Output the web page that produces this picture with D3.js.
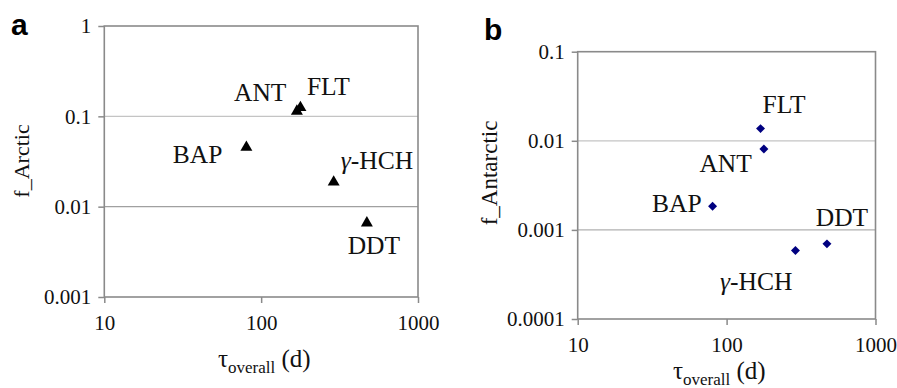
<!DOCTYPE html>
<html><head><meta charset="utf-8">
<script src="https://cdn.jsdelivr.net/npm/d3@7"></script>
<style>
body{margin:0;background:#fff;}
svg{display:block;}
svg text{font-family:"Liberation Serif","Times New Roman",serif;}
svg text.letter{font-family:"Liberation Sans",Arial,sans-serif;}
</style></head>
<body>
<svg id="chart" width="897" height="388"></svg>
<script>
// ---- data ----
const compounds = ["BAP", "ANT", "FLT", "γ-HCH", "DDT"];
const tauOverall = [80.5, 178, 169, 290, 472];          // days
const fArctic    = [0.0454, 0.125, 0.114, 0.0187, 0.0066];
const fAntarctic = [0.00184, 0.0081, 0.0137, 0.000586, 0.000697];
const xTicks = [10, 100, 1000];
const yTicksA = [0.001, 0.01, 0.1, 1];
const yTicksB = [0.0001, 0.001, 0.01, 0.1];

const svg = d3.select("#chart");

function fmt(v){ return String(v); }

function panel(cfg){
  const g = svg.append("g");
  const x = d3.scaleLog().domain([10,1000]).range([cfg.left, cfg.right]);
  const y = d3.scaleLog().domain(cfg.yDomain).range([cfg.bottom, cfg.top]);

  // gridlines
  cfg.yTicks.slice(1,-1).forEach((t,i)=>{
    g.append("line").attr("x1",cfg.left).attr("x2",cfg.right)
      .attr("y1",y(t)).attr("y2",y(t))
      .attr("stroke",cfg.gridColors[i]).attr("stroke-width",1.2);
  });

  // axes
  const ya = g.append("g").attr("transform",`translate(${cfg.left},0)`)
    .call(d3.axisLeft(y).tickValues(cfg.yTicks).tickFormat(fmt).tickSize(6).tickPadding(7));
  const xa = g.append("g").attr("transform",`translate(0,${cfg.bottom})`)
    .call(d3.axisBottom(x).tickValues(xTicks).tickFormat(fmt).tickSize(6).tickPadding(12));
  [ya,xa].forEach(a=>{
    a.attr("font-family",null);
    a.select(".domain").remove();
    a.selectAll(".tick line").attr("stroke","#8a8a8a").attr("stroke-width",1.5);
    a.selectAll("text").attr("font-size",21).attr("fill","#111");
  });
  // frame
  g.append("rect").attr("x",cfg.left).attr("y",cfg.top)
    .attr("width",cfg.right-cfg.left).attr("height",cfg.bottom-cfg.top)
    .attr("fill","none").attr("stroke","#8a8a8a").attr("stroke-width",1.6);

  // markers
  const pts = compounds.map((c,i)=>({c, x:x(tauOverall[i]), y:y(cfg.values[i])}));
  g.selectAll("path.m").data(pts).enter().append("path")
    .attr("d", d3.symbol().type(cfg.symbol).size(cfg.symSize))
    .attr("transform", d=>`translate(${d.x},${d.y})${cfg.symbol===d3.symbolSquare?" rotate(45)":""}`)
    .attr("fill", cfg.color);

  // labels
  pts.forEach(d=>{
    const o = cfg.labelPos[d.c];
    const t = g.append("text").attr("x",d.x+o[0]).attr("y",d.y+o[1])
      .attr("text-anchor",o[2]).attr("font-size",25.5).attr("fill","#111");
    if(d.c.startsWith("γ")){
      t.append("tspan").attr("font-style","italic").text("γ");
      t.append("tspan").text(d.c.slice(1));
    } else t.text(d.c);
  });

  // y title
  g.append("text").attr("transform",`translate(${cfg.yTitle[0]},${cfg.yTitle[1]}) rotate(-90)`)
    .attr("text-anchor","middle").attr("font-size",cfg.yTitleSize)
    .attr("fill","#111").text(cfg.yLabel);
  // x title
  const xt = g.append("text").attr("x",cfg.xTitle[0]).attr("y",cfg.xTitle[1])
    .attr("font-size",25).attr("fill","#111");
  xt.append("tspan").text("τ");
  xt.append("tspan").attr("font-size",17).attr("dy",6).text("overall");
  xt.append("tspan").attr("dy",-6).text(" (d)");
  // panel letter
  g.append("text").attr("class","letter").attr("x",cfg.letter[0]).attr("y",cfg.letter[1])
    .attr("font-weight","bold").attr("font-size",30)
    .attr("fill","#000").text(cfg.letterText);
}

panel({
  left:104.3, right:418, top:26, bottom:297,
  yDomain:[0.001,1], yTicks:yTicksA, values:fArctic,
  gridColors:["#a0a0a0","#c4c4c4"],
  symbol:d3.symbolTriangle, symSize:62, color:"#000",
  labelPos:{"BAP":[-24,16,"end"],"ANT":[-14,-7,"end"],"FLT":[10,-16,"start"],"γ-HCH":[7,-13,"start"],"DDT":[7,31,"middle"]},
  yTitle:[29,161], yTitleSize:22, yLabel:"f_Arctic",
  xTitle:[218,367], letter:[11,35], letterText:"a"
});
panel({
  left:577.7, right:875.5, top:51.7, bottom:319,
  yDomain:[0.0001,0.1], yTicks:yTicksB, values:fAntarctic,
  gridColors:["#b0b0b0","#c4c4c4"],
  symbol:d3.symbolSquare, symSize:40, color:"#000080",
  labelPos:{"BAP":[-11,6,"end"],"ANT":[-12,23,"end"],"FLT":[2,-16,"start"],"γ-HCH":[-3,39,"end"],"DDT":[15,-18,"middle"]},
  yTitle:[497,173], yTitleSize:23, yLabel:"f_Antarctic",
  xTitle:[673,379], letter:[484,40], letterText:"b"
});
</script>
</body></html>
